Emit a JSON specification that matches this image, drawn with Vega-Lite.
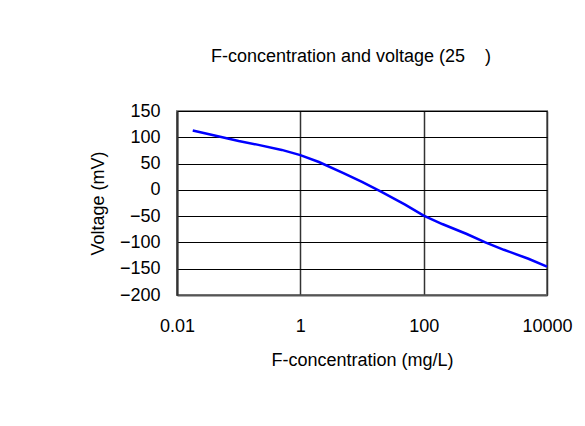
{
  "$schema": "https://vega.github.io/schema/vega-lite/v6.json",
  "width": 370,
  "height": 184,
  "autosize": "none",
  "padding": {"left": 177, "top": 111, "right": 38, "bottom": 131},
  "background": "white",
  "title": {
    "text": "F-concentration and voltage (25\u00a0\u00a0\u00a0\u00a0)",
    "font": "Liberation Sans",
    "fontSize": 18,
    "fontWeight": "normal",
    "color": "#000000",
    "baseline": "alphabetic",
    "offset": 22,
    "dx": -11
  },
  "data": {
    "values": [
      {"conc": 0.018, "mv": 113},
      {"conc": 0.05, "mv": 101},
      {"conc": 0.1, "mv": 93},
      {"conc": 0.2, "mv": 86},
      {"conc": 0.5, "mv": 76},
      {"conc": 1, "mv": 66},
      {"conc": 2, "mv": 53},
      {"conc": 5, "mv": 32},
      {"conc": 10, "mv": 15},
      {"conc": 20, "mv": -3},
      {"conc": 50, "mv": -28},
      {"conc": 100, "mv": -49},
      {"conc": 200, "mv": -65},
      {"conc": 500, "mv": -84},
      {"conc": 1000, "mv": -100},
      {"conc": 2000, "mv": -114},
      {"conc": 5000, "mv": -131},
      {"conc": 10000, "mv": -146}
    ]
  },
  "mark": {"type": "line", "color": "#0000FF", "strokeWidth": 2.5},
  "encoding": {
    "x": {
      "field": "conc",
      "type": "quantitative",
      "scale": {"type": "log", "domain": [0.01, 10000], "nice": false},
      "axis": {
        "title": "F-concentration (mg/L)",
        "values": [0.01, 1, 100, 10000],
        "format": "~g",
        "ticks": false,
        "labelPadding": 22,
        "labelBaseline": "top",
        "labelFontSize": 18,
        "labelFont": "Liberation Sans",
        "labelColor": "#000000",
        "labelFlush": false,
        "labelOverlap": false,
        "titleFont": "Liberation Sans",
        "titleFontSize": 18,
        "titleFontWeight": "normal",
        "titleColor": "#000000",
        "titlePadding": 16,
        "grid": true,
        "gridColor": "#333333",
        "gridWidth": 1.5,
        "domainColor": "#555555",
        "domainWidth": 2
      }
    },
    "y": {
      "field": "mv",
      "type": "quantitative",
      "scale": {"domain": [-200, 150], "nice": false, "zero": false},
      "axis": {
        "title": "Voltage (mV)",
        "values": [-200, -150, -100, -50, 0, 50, 100, 150],
        "ticks": false,
        "labelPadding": 17,
        "labelFontSize": 18,
        "labelFont": "Liberation Sans",
        "labelColor": "#000000",
        "labelFlush": false,
        "labelOverlap": false,
        "titleFont": "Liberation Sans",
        "titleFontSize": 18,
        "titleFontWeight": "normal",
        "titleColor": "#000000",
        "titlePadding": 12,
        "grid": true,
        "gridColor": "#000000",
        "gridWidth": 1,
        "domainColor": "#333333",
        "domainWidth": 2
      }
    }
  },
  "config": {
    "view": {"stroke": "#888888", "strokeWidth": 2}
  }
}
